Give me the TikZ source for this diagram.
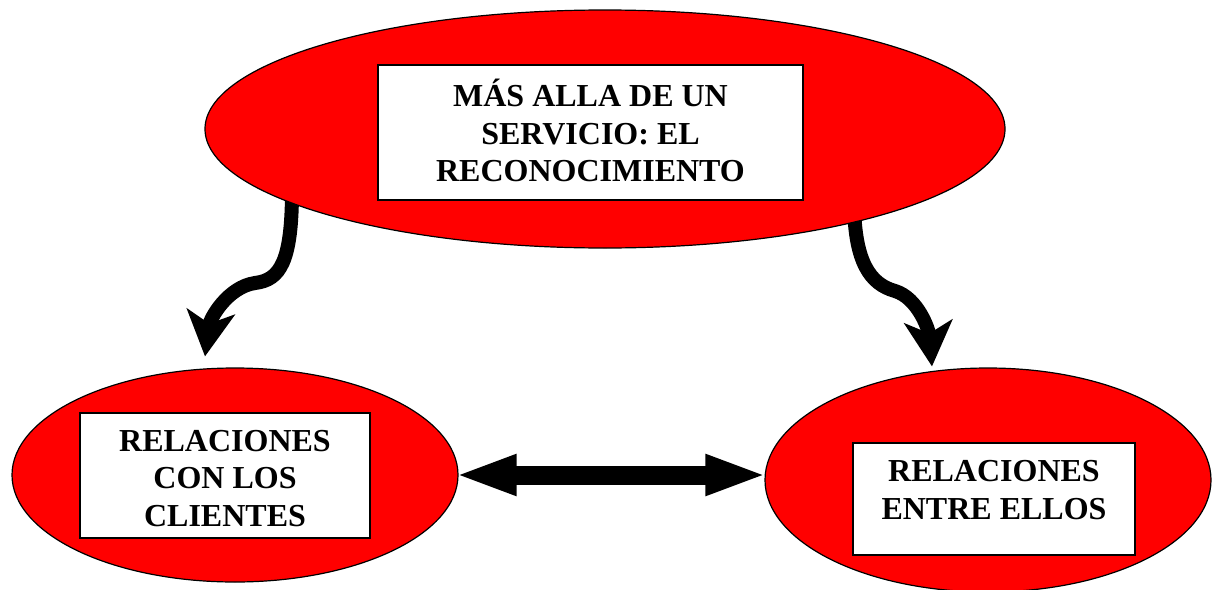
\documentclass[tikz,border=0pt]{standalone}
\usepackage{fontspec}
\setmainfont{Liberation Serif}
\usetikzlibrary{arrows.meta,shapes.geometric,backgrounds}
\begin{document}
\begin{tikzpicture}[x=1pt,y=-1pt,
  oval/.style={ellipse,draw=black,line width=1.2pt,fill=red,inner sep=0pt},
  box/.style={draw=black,line width=1.2pt,fill=white,inner sep=0pt},
  lbl/.style={font=\fontsize{32}{37.5}\selectfont\bfseries,align=center,inner sep=0pt},
  curvy/.style={line width=14pt,-{Stealth[length=45pt,width=48pt,inset=12pt]}},
  twoway/.style={line width=19pt,{Triangle[length=62pt,width=37pt]}-{Triangle[length=62pt,width=37pt]}}]
\useasboundingbox (0,0) rectangle (1215,589);
% ellipses
\node[oval,minimum width=800pt,minimum height=238pt] (top) at (605,129) {};
\node[oval,minimum width=446pt,minimum height=214pt] (left) at (235,475) {};
\node[oval,minimum width=446pt,minimum height=224pt] (right) at (988,480) {};
% boxes
\node[box,minimum width=425pt,minimum height=135pt] (topbox) at (590.5,132.5) {};
\node[box,minimum width=290pt,minimum height=125pt] (leftbox) at (225,475.5) {};
\node[box,minimum width=282pt,minimum height=112pt] (rightbox) at (994,499) {};
% texts
\node[lbl] (toptext) at ([yshift=2pt]topbox.center) {MÁS ALLA DE UN\\SERVICIO: EL\\RECONOCIMIENTO};
\node[lbl] (lefttext) at ([yshift=-3pt]leftbox.center) {RELACIONES\\CON LOS\\CLIENTES};
\node[lbl] (righttext) at ([yshift=9pt]rightbox.center) {RELACIONES\\ENTRE ELLOS};
% arrow end points
\coordinate (ls) at (292,190);
\coordinate (rs) at (854,205);
\coordinate (lt) at ([xshift=-30pt,yshift=11pt]left.north);
\coordinate (rt) at ([xshift=-56pt,yshift=1pt]right.north);
\begin{scope}[on background layer]
\draw[curvy] (ls) .. controls (292,262) and (280,280) .. (255,283)
  .. controls (228,287) and (210,318) .. (lt);
\draw[curvy] (rs) .. controls (855,262) and (870,284) .. (895,291)
  .. controls (918,298) and (929,330) .. (rt);
\end{scope}
\draw[twoway] ([xshift=-4pt]left.east) -- ([xshift=3pt]left.east -| right.west);
\end{tikzpicture}
\end{document}
